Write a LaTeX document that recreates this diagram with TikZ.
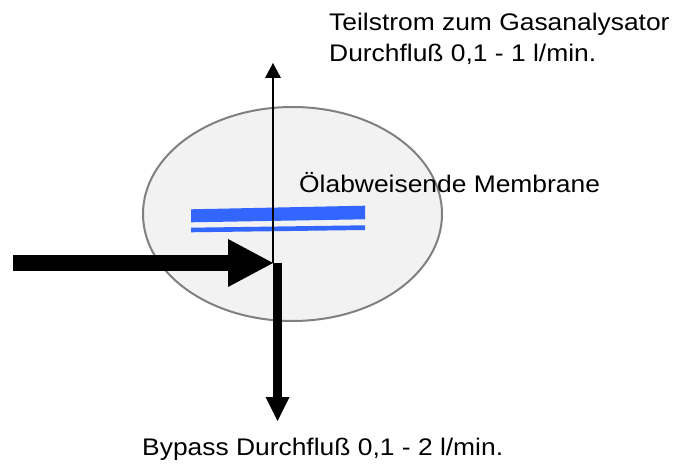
\documentclass[tikz,border=0pt]{standalone}
\usepackage{fontspec}
\setmainfont{Liberation Sans}[FakeStretch=1.10]
\usetikzlibrary{arrows.meta,shapes.geometric}
\definecolor{membrane}{RGB}{51,102,255}
\definecolor{chamberfill}{RGB}{242,242,242}
\definecolor{rimgray}{RGB}{128,128,128}
\begin{document}
\begin{tikzpicture}[x=1pt,y=-1pt,
  lbl/.style={anchor=base west,inner sep=0pt,font=\fontsize{24}{31}\selectfont},
  thinflow/.style={line width=2pt,-{Triangle[width=16pt,length=15pt,line width=0pt]}},
  mainflow/.style={line width=16pt,-{Triangle[width=48pt,length=45pt,line width=0pt]}},
  bypassflow/.style={line width=8.5pt,-{Triangle[width=24pt,length=24pt,line width=0pt]}}]
\useasboundingbox (0,0) rectangle (691,465);
\node[ellipse,draw=rimgray,line width=2pt,fill=chamberfill,minimum width=299pt,minimum height=214pt,inner sep=0pt] (chamber) at (292.5,214) {};
\fill[membrane] (191,209.3) -- (365,205.7) -- (365,219.3) -- (191,222.3) -- cycle;
\fill[membrane] (191,227.7) -- (365,225.3) -- (365,230) -- (191,232.3) -- cycle;
\node[lbl] (top1) at (329,30.5) {Teilstrom zum Gasanalysator};
\node[lbl] (top2) at (329,61.5) {Durchfluß 0,1 - 1 l/min.};
\node[lbl] (membr) at (299,193) {Ölabweisende Membrane};
\node[lbl] (bypass) at (142,455) {Bypass Durchfluß 0,1 - 2 l/min.};
\coordinate (inflow) at (13,263);
\coordinate (junction) at (273,263);
\coordinate (sampletop) at (273,63);
\coordinate (bypasstop) at (277.5,263);
\coordinate (bypassend) at (277.5,421);
\draw[mainflow] (inflow) -- (junction);
\draw[thinflow] (junction) -- (sampletop);
\draw[bypassflow] (bypasstop) -- (bypassend);
\end{tikzpicture}
\end{document}
